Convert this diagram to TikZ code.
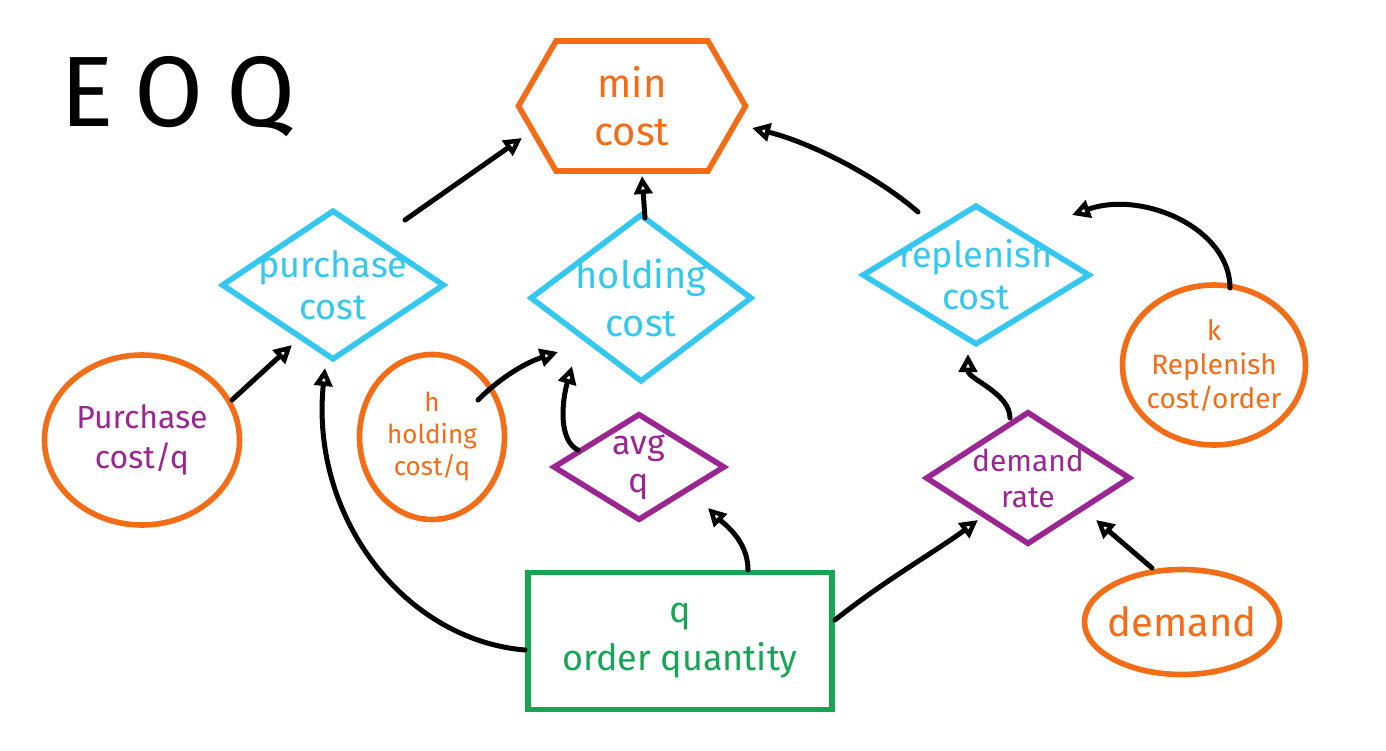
\documentclass[tikz,border=0pt]{standalone}
\usepackage{fontspec}
\setmainfont{Fira Sans}
\usetikzlibrary{shapes.geometric,shapes.symbols,arrows.meta,calc}
\definecolor{orn}{RGB}{244,108,22}
\definecolor{cy}{RGB}{52,200,240}
\definecolor{pur}{RGB}{155,38,145}
\definecolor{grn}{RGB}{22,165,85}
\tikzset{
  lbl/.style={inner sep=0pt,align=center},
  dia/.style={diamond,draw=cy,line width=2.8pt,inner sep=0pt},
  pdia/.style={diamond,draw=pur,line width=2.8pt,inner sep=0pt},
  oell/.style={ellipse,draw=orn,line width=2.8pt,inner sep=0pt},
  arr/.style={draw=black,line width=2.5pt,line cap=round,-{Triangle[open,length=9pt,width=9pt]}},
}
\begin{document}
\begin{tikzpicture}[x=0.5pt,y=-0.5pt]
\useasboundingbox (0,0) rectangle (1386,750);
\fill[white] (0,0) rectangle (1386,750);

\node[lbl,font=\fontsize{50}{50}\selectfont\addfontfeatures{LetterSpace=22}] (eoq) at (178,97) {EOQ};

\node[signal,signal to=west and east,signal pointer angle=120,draw=orn,line width=2.8pt,inner sep=0pt,
  minimum width=113.5pt,minimum height=65pt,
  label={[lbl,text=orn,font=\fontsize{20}{24}\selectfont]center:min\\cost}] (min) at (632,106) {};

\node[dia,minimum width=111.5pt,minimum height=75pt,
  label={[lbl,text=cy,font=\fontsize{18}{21}\selectfont]center:purchase\\cost}] (pc) at (333,285) {};
\node[dia,minimum width=111pt,minimum height=84pt,
  label={[lbl,text=cy,font=\fontsize{19}{24}\selectfont]center:holding\\cost}] (hc) at (641,298) {};
\node[dia,minimum width=114pt,minimum height=70pt,
  label={[lbl,text=cy,font=\fontsize{18}{21}\selectfont]center:replenish\\cost}] (rc) at (976,275) {};

\node[pdia,minimum width=86pt,minimum height=53.5pt,
  label={[lbl,text=pur,font=\fontsize{17}{19}\selectfont]center:avg\\q}] (avg) at (639,467) {};
\node[pdia,minimum width=102.5pt,minimum height=66.5pt,
  label={[lbl,text=pur,font=\fontsize{15}{18}\selectfont]center:demand\\rate}] (dr) at (1028,478) {};

\node[oell,minimum width=97.5pt,minimum height=85pt,
  label={[lbl,text=pur,font=\fontsize{16}{20}\selectfont]center:Purchase\\cost/q}] (pcq) at (142,440) {};
\node[oell,minimum width=72.5pt,minimum height=82.5pt,
  label={[lbl,text=orn,font=\fontsize{13}{16}\selectfont]center:h\\holding\\cost/q}] (hq) at (432,437) {};
\node[oell,minimum width=91.5pt,minimum height=80pt,
  label={[lbl,text=orn,font=\fontsize{14}{17}\selectfont]center:k\\Replenish\\cost/order}] (kq) at (1214,365) {};
\node[oell,minimum width=97.5pt,minimum height=52.5pt,
  label={[lbl,text=orn,font=\fontsize{20}{24}\selectfont]center:demand}] (dem) at (1182,622) {};

\node[rectangle,draw=grn,line width=2.8pt,inner sep=0pt,minimum width=152pt,minimum height=68.5pt,
  label={[lbl,text=grn,font=\fontsize{18}{24}\selectfont]center:q\\order quantity}] (oq) at (680,641) {};

% connectors
\draw[arr] ([shift={(72,-65)}]pc.center) -- ([shift={(-110,32)}]min.center);
\draw[arr] ([shift={(4,-80)}]hc.center) -- ([shift={(10,70)}]min.center);
\draw[arr] ([shift={(-58,-63)}]rc.center) .. controls +(-40,-35) and +(60,15) .. ([shift={(120,22)}]min.center);
\draw[arr] ([shift={(16,-77)}]kq.center) .. controls +(0,-60) and +(70,-25) .. ([shift={(96,-60)}]rc.center);
\draw[arr] ([shift={(90,-40)}]pcq.center) -- ([shift={(-41,60)}]pc.center);
\draw[arr] ([shift={(46,-37)}]hq.center) .. controls +(25,-25) and +(-30,10) .. ([shift={(-83,54)}]hc.center);
\draw[arr] ([shift={(-61,-17)}]avg.center) .. controls +(-20,-10) and +(-10,35) .. ([shift={(-69,68)}]hc.center);
\draw[arr] ([shift={(-155,9)}]oq.center) .. controls +(-120,-10) and +(-15,150) .. ([shift={(-8,83)}]pc.center);
\draw[arr] ([shift={(68,-71)}]oq.center) .. controls +(0,-30) and +(15,15) .. ([shift={(69,41)}]avg.center);
\draw[arr] ([shift={(155,-21)}]oq.center) .. controls +(50,-40) and +(-40,30) .. ([shift={(-50,42)}]dr.center);
\draw[arr] ([shift={(-30,-54)}]dem.center) -- ([shift={(68,42)}]dr.center);
\draw[arr] ([shift={(-18,-60)}]dr.center) .. controls +(0,-25) and +(0,25) .. ([shift={(-8,79)}]rc.center);
\end{tikzpicture}
\end{document}
